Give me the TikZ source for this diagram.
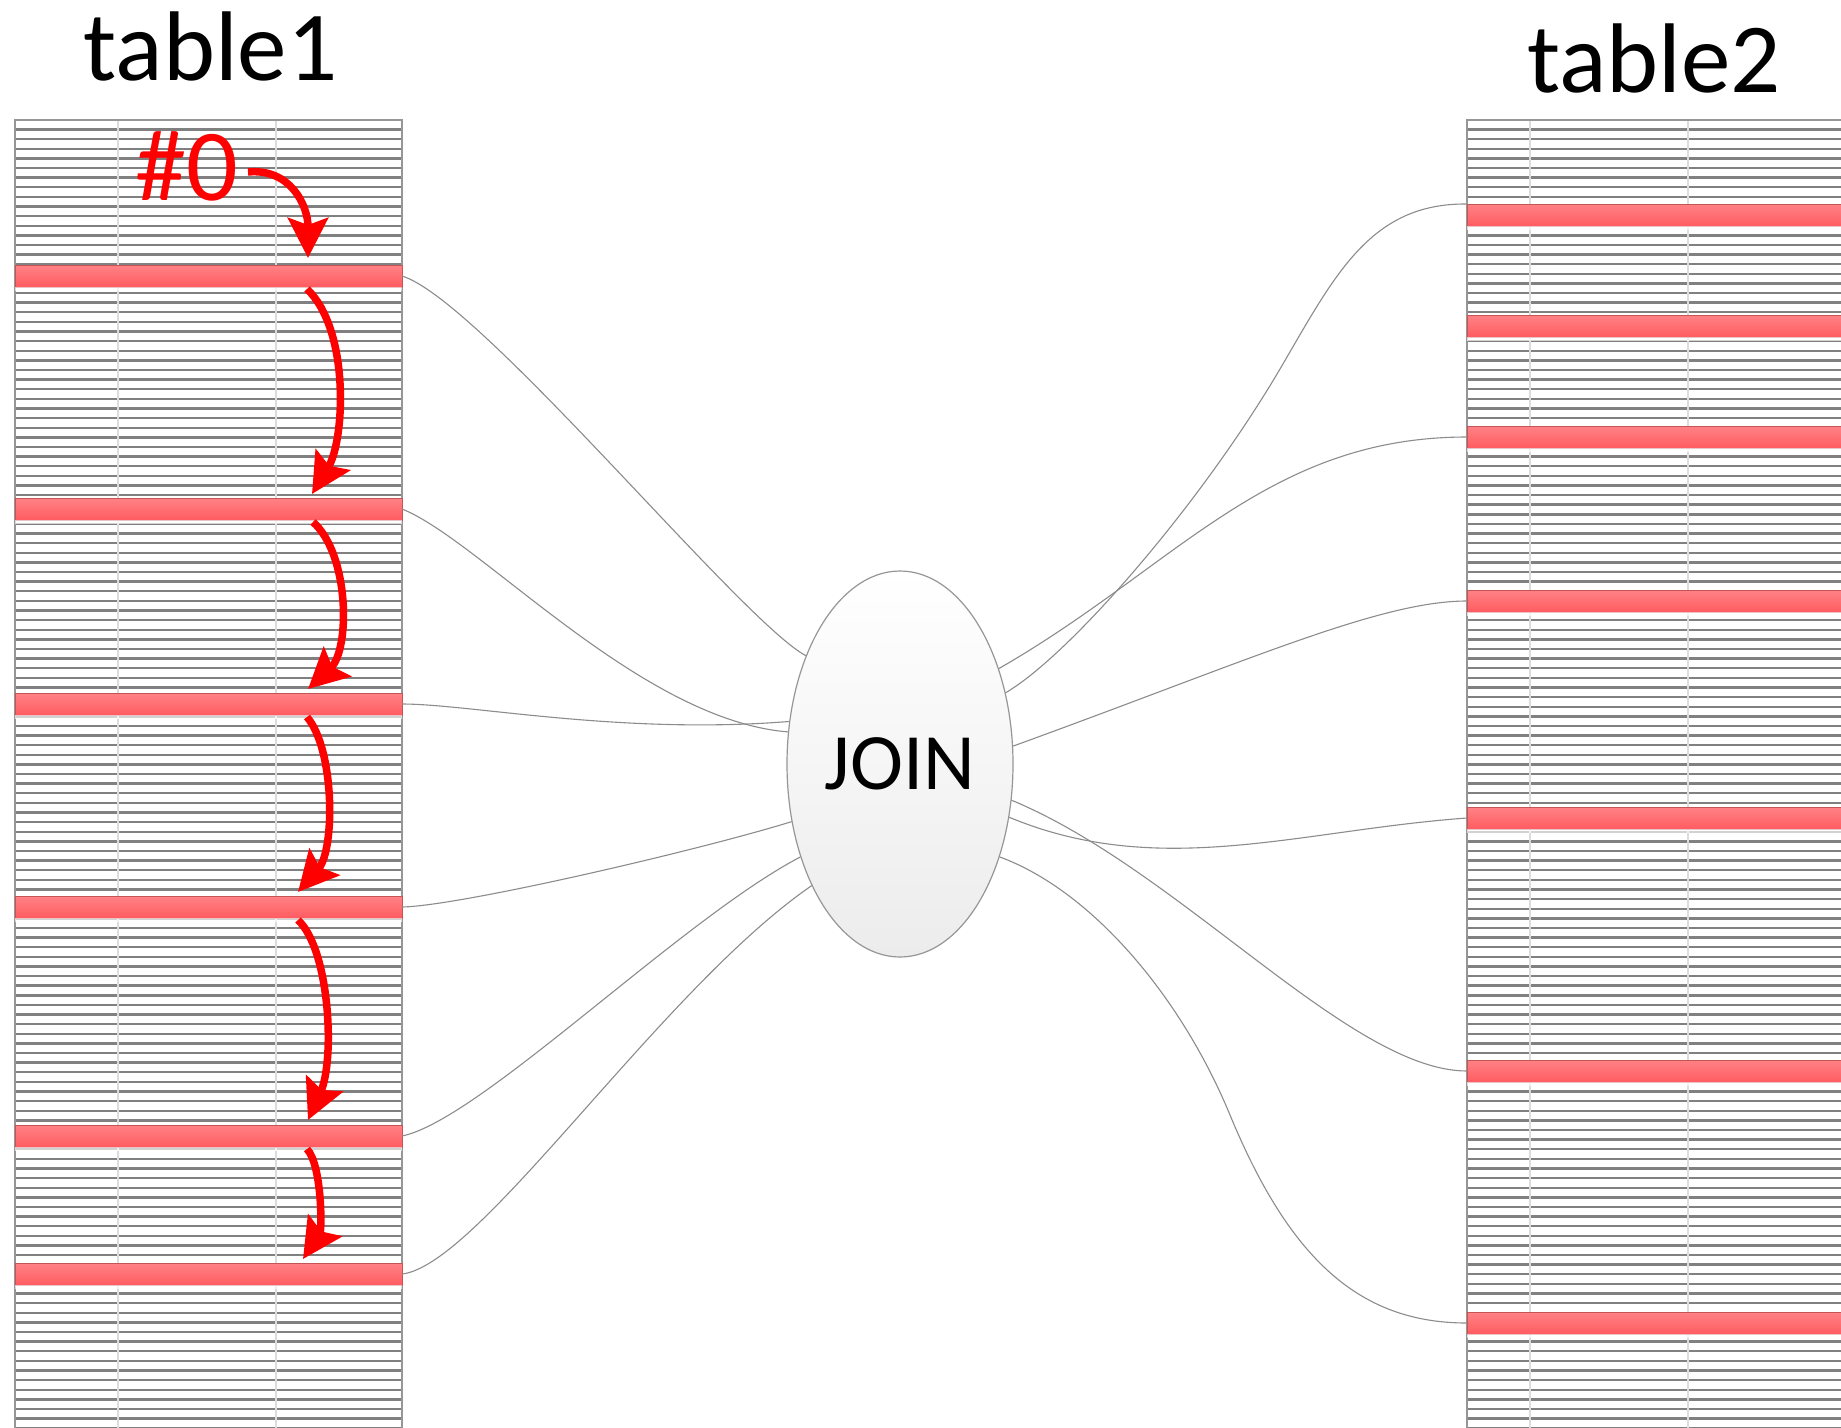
\documentclass[tikz,border=0pt]{standalone}
\usepackage{fontspec}
\setmainfont{Carlito}
\usetikzlibrary{arrows.meta,shapes.geometric}

\definecolor{bandtop}{RGB}{255,130,133}
\definecolor{bandbot}{RGB}{255,92,97}
\definecolor{bandedge}{RGB}{196,84,86}
\definecolor{stripecol}{RGB}{128,128,128}
\definecolor{dividercol}{RGB}{220,220,220}
\definecolor{framecol}{RGB}{150,150,150}
\definecolor{wirecol}{RGB}{140,140,140}
\definecolor{flowred}{RGB}{255,0,0}
\definecolor{joinbot}{RGB}{236,236,236}

\begin{document}
\begin{tikzpicture}[x=1pt,y=-1pt,
  band/.style={rectangle, inner sep=0pt, outer sep=0pt, minimum height=22pt,
    top color=bandtop, bottom color=bandbot, draw=bandedge, line width=0.8pt},
  lband/.style={band, minimum width=387pt},
  rband/.style={band, minimum width=380pt},
  stripeline/.style={draw=stripecol, line width=2.4pt},
  divline/.style={draw=dividercol, line width=1.5pt},
  frameline/.style={draw=framecol, line width=1.5pt},
  wire/.style={draw=wirecol, line width=1.1pt},
  flow/.style={draw=flowred, line width=7.5pt,
    -{Stealth[length=40pt,width=40pt,inset=7pt]}},
  title/.style={inner sep=0pt, anchor=base, font=\fontsize{99}{99}\selectfont},
]
\clip (0,0) rectangle (1841,1427);
\fill[white] (0,0) rectangle (1841,1427);

% ---- striped tables ----
\fill[white] (15,120) rectangle (402,1430);
\fill[white] (1467,120) rectangle (1845,1430);
\foreach \k [evaluate=\k as \yy using 129.5+9.62*\k] in {0,...,135} {
  \draw[stripeline] (15,\yy) -- (402,\yy);
  \draw[stripeline] (1467,\yy) -- (1845,\yy);
}
\foreach \xx in {118,276,1530,1688}
  \draw[divline] (\xx,121) -- (\xx,1430);
\draw[frameline] (15,1430) -- (15,120) -- (402,120) -- (402,1430);
\draw[frameline] (1845,120) -- (1467,120) -- (1467,1430);

% ---- highlighted rows ----
\foreach \nm/\yy in {a1/276,a2/509,a3/704,a4/907,a5/1136,a6/1274} {
  \node[lband] (\nm) at (208.5,\yy) {};
  \fill[white, opacity=0.65] (\nm.south west) rectangle ([yshift=-4pt]\nm.south east);
}
\foreach \nm/\yy in {b1/215,b2/326,b3/437,b4/601,b5/818,b6/1071,b7/1323} {
  \node[rband] (\nm) at (1657,\yy) {};
  \fill[white, opacity=0.65] (\nm.south west) rectangle ([yshift=-4pt]\nm.south east);
}

% ---- join node ----
\node[ellipse, draw=framecol, line width=1.2pt, top color=white, bottom color=joinbot,
      minimum width=226pt, minimum height=386pt, inner sep=0pt,
      font=\fontsize{80}{80}\selectfont] (join) at (900,764) {JOIN};

% ---- connectors from table1 ----
\draw[wire] (a1.east) .. controls (480,300) and (740,620) .. (join.131);
\draw[wire] (a2.east) .. controls (480,540) and (640,720) .. (join.164);
\draw[wire] (a3.east) .. controls (470,704) and (620,735) .. (join.159);
\draw[wire] (a4.east) .. controls (460,906) and (700,850) .. (join.208);
\draw[wire] (a5.east) .. controls (480,1120) and (680,920) .. (join.223);
\draw[wire] (a6.east) .. controls (480,1265) and (660,990) .. (join.234);

% ---- connectors from table2 ----
\draw[wire] (b1.north west) .. controls (1370,203) and (1335,275) .. (1280,369)
            .. controls (1200,505) and (1070,655) .. (join.34);
\draw[wire] (b3.west) .. controls (1267,437) and (1176,567) .. (join.44);
\draw[wire] (b4.west) .. controls (1380,601) and (1250,660) .. (join.9);
\draw[wire] (b5.west) .. controls (1300,830) and (1160,880) .. (join.334);
\draw[wire] (b6.west) .. controls (1350,1071) and (1180,870) .. (join.342);
\draw[wire] (b7.west) .. controls (1360,1323) and (1290,1260) .. (1230,1115)
            .. controls (1180,994) and (1090,890) .. (join.317);

% ---- titles ----
\node[title] (t1) at (210.5,80) {table1};
\node[title] (t2) at (1654,92) {table2};

% ---- scan order arrows ----
\node[inner sep=0pt, anchor=base, text=flowred, font=\fontsize{102}{102}\selectfont]
  (zero) at (186.5,200) {\#0};
\coordinate (s0) at (248,172);
\draw[flow] (s0) .. controls (290,168) and (308,205) .. ([xshift=99.5pt,yshift=7pt]a1.north);
\draw[flow] ([xshift=98.5pt,yshift=-2pt]a1.south) .. controls (350,330) and (345,440)
            .. ([xshift=103.5pt,yshift=4pt]a2.north);
\draw[flow] ([xshift=104.5pt,yshift=-2pt]a2.south) .. controls (350,555) and (350,650)
            .. ([xshift=99.5pt,yshift=4pt]a3.north);
\draw[flow] ([xshift=98.5pt,yshift=-2pt]a3.south) .. controls (335,750) and (335,850)
            .. ([xshift=89.5pt,yshift=4pt]a4.north);
\draw[flow] ([xshift=89.5pt,yshift=-2pt]a4.south) .. controls (330,950) and (335,1060)
            .. ([xshift=99.5pt,yshift=5pt]a5.north);
\draw[flow] ([xshift=98.5pt,yshift=-2pt]a5.south) .. controls (322,1165) and (322,1230)
            .. ([xshift=94.5pt,yshift=4pt]a6.north);
\end{tikzpicture}
\end{document}
